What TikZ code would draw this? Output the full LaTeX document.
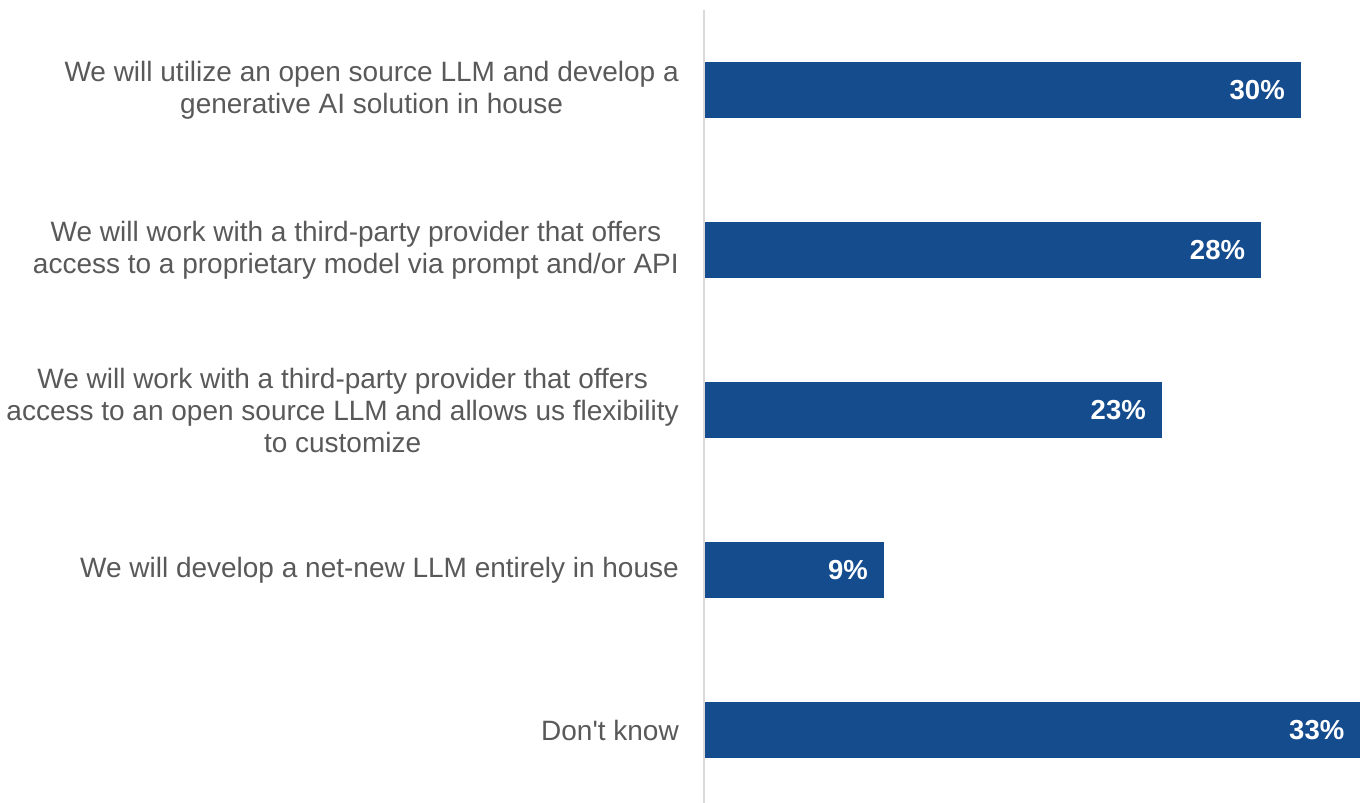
\documentclass[tikz,border=0pt]{standalone}
\usepackage{fontspec}
\setmainfont{Liberation Sans}
\definecolor{barblue}{RGB}{20,76,142}
\definecolor{labelgray}{RGB}{89,89,89}
\definecolor{axisgray}{RGB}{217,217,217}
\begin{document}
\begin{tikzpicture}[x=1pt,y=-1pt,
  catlabel/.style={anchor=east,align=center,text=labelgray,inner sep=0pt,
    font=\fontsize{28}{32}\selectfont},
  bar/.style={fill=barblue,draw=none,inner sep=0pt,anchor=west,minimum height=56pt},
  val/.style={anchor=east,text=white,inner sep=0pt,font=\fontsize{27.5}{32}\selectfont\bfseries}]
\useasboundingbox (0,0) rectangle (1360,803);
% value axis baseline
\coordinate (axtop) at (704,10);
\coordinate (axbot) at (704,803);
\draw[axisgray,line width=2pt] (axtop) -- (axbot);
% bars: 19.85 px per percent, starting at the axis
\foreach \i/\v/\yc/\txt in {
  1/30/90/{We will utilize an open source LLM and develop a\\generative AI solution in house},
  2/28/250/{We will work with a third-party provider that offers\\access to a proprietary model via prompt and/or API},
  3/23/410/{We will work with a third-party provider that offers\\access to an open source LLM and allows us flexibility\\to customize},
  4/9/570/{We will develop a net-new LLM entirely in house},
  5/33/730/{Don\textquotesingle t know}}{
  \node[bar,minimum width=\v*19.85pt] (b\i) at (705,\yc) {};
  \node[val] (v\i) at ([xshift=-16pt]b\i.east) {\v\%};
  \node[catlabel] (c\i) at (679,\yc) {\txt};
}
\end{tikzpicture}
\end{document}
